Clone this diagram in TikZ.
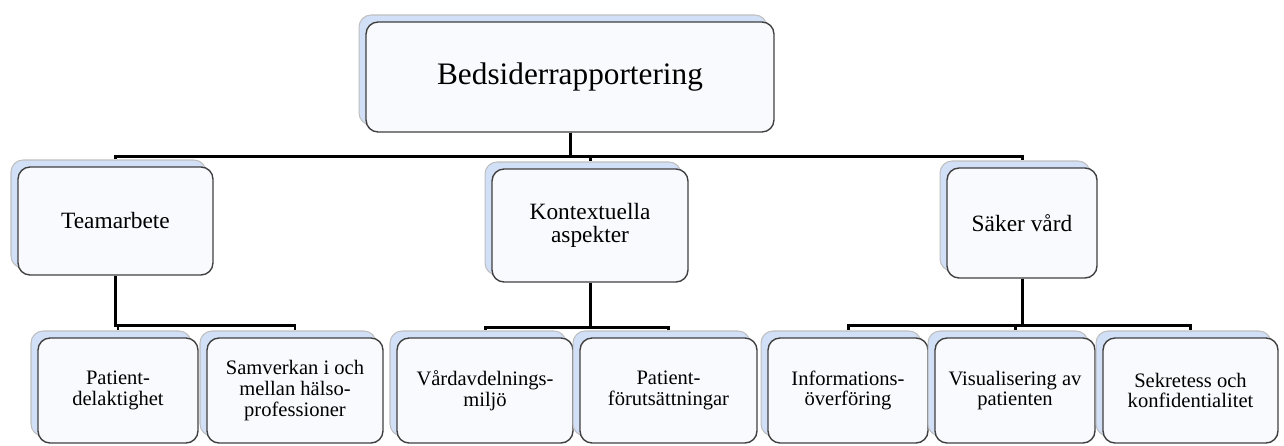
\documentclass[tikz,border=0pt]{standalone}
\usepackage{fontspec}
\setmainfont{Liberation Serif}
\usetikzlibrary{shadows}

\definecolor{backblue}{RGB}{210,224,247}
\definecolor{frontfill}{RGB}{249,250,254}

\begin{document}
\begin{tikzpicture}[x=0.02cm, y=-0.02cm,
    box/.style={rectangle, draw=black!75, line width=0.8pt, rounded corners=0.24cm,
        fill=frontfill, align=center, inner sep=2pt,
        copy shadow={shadow xshift=-0.14cm, shadow yshift=0.14cm, fill=backblue, draw=black!25, line width=0.6pt}},
    midtext/.style={font=\fontsize{13.3}{13}\selectfont},
    lowtext/.style={font=\fontsize{11.7}{11.7}\selectfont},
    link/.style={draw, line width=1.7pt, shorten >=0.14cm}]
    \useasboundingbox (0,0) rectangle (1284,446);

    % top
    \node (top) [box, minimum width=8.16cm, minimum height=2.2cm, font=\fontsize{17.8}{20}\selectfont] at (570,77) {Bedsiderrapportering};

    % second row
    \node (team) [box, midtext, minimum width=3.9cm, minimum height=2.16cm] at (115.5,221) {Teamarbete};
    \node (kont) [box, midtext, minimum width=3.92cm, minimum height=2.26cm] at (590,225.5) {Kontextuella\\aspekter};
    \node (saker) [box, midtext, minimum width=3cm, minimum height=2.2cm] at (1022,223) {Säker vård};

    % third row
    \node (pdel) [box, lowtext, minimum width=3.2cm, minimum height=2.1cm] at (118,390.5) {Patient-\\delaktighet};
    \node (samv) [box, lowtext, minimum width=3.52cm, minimum height=2.1cm] at (295,390.5) {Samverkan i och\\mellan hälso-\\professioner};
    \node (vard) [box, lowtext, minimum width=3.52cm, minimum height=2.1cm] at (485,390.5) {Vårdavdelnings-\\miljö};
    \node (pfor) [box, lowtext, minimum width=3.54cm, minimum height=2.1cm] at (668.5,390.5) {Patient-\\förutsättningar};
    \node (info) [box, lowtext, minimum width=3.2cm, minimum height=2.1cm] at (848,390.5) {Informations-\\överföring};
    \node (visu) [box, lowtext, minimum width=3.2cm, minimum height=2.1cm] at (1015,390.5) {Visualisering av\\patienten};
    \node (sekr) [box, lowtext, minimum width=3.5cm, minimum height=2.1cm] at (1190.5,390.5) {Sekretess och\\konfidentialitet};

    \draw [link] (top.south) -- ++(0,24) -| (team.north);
    \draw [link] (top.south) -- ++(0,24) -| (kont.north);
    \draw [link] (top.south) -- ++(0,24) -| (saker.north);

    \draw [link] (team.south) -- ++(0,50) -| (pdel.north);
    \draw [link] (team.south) -- ++(0,50) -| (samv.north);
    \draw [link] (kont.south) -- ++(0,45) -| (vard.north);
    \draw [link] (kont.south) -- ++(0,45) -| (pfor.north);
    \draw [link] (saker.south) -- ++(0,47) -| (info.north);
    \draw [link] (saker.south) -- ++(0,47) -| (visu.north);
    \draw [link] (saker.south) -- ++(0,47) -| (sekr.north);
\end{tikzpicture}
\end{document}
